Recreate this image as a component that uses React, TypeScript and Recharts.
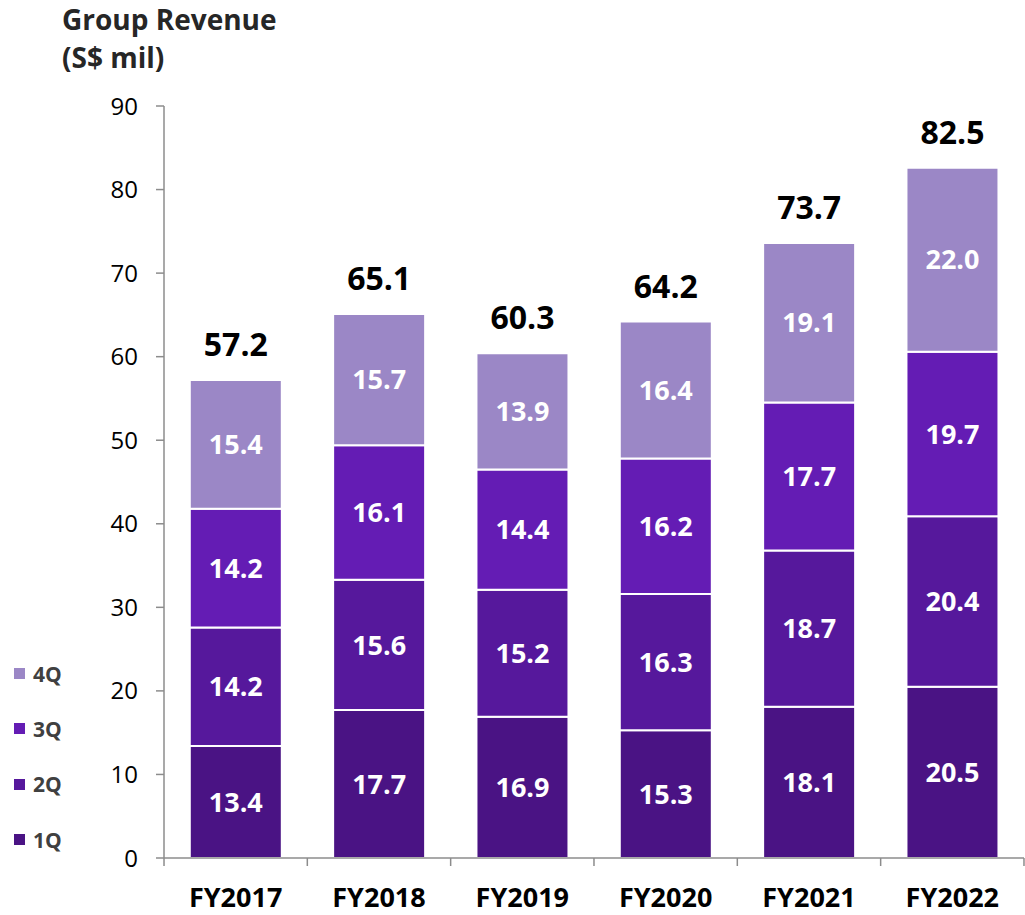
import { Bar, BarChart, LabelList, XAxis, YAxis } from "recharts";

const years = ["FY2017", "FY2018", "FY2019", "FY2020", "FY2021", "FY2022"];
const q1 = [13.4, 17.7, 16.9, 15.3, 18.1, 20.5];
const q2 = [14.2, 15.6, 15.2, 16.3, 18.7, 20.4];
const q3 = [14.2, 16.1, 14.4, 16.2, 17.7, 19.7];
const q4 = [15.4, 15.7, 13.9, 16.4, 19.1, 22.0];
const totals = [57.2, 65.1, 60.3, 64.2, 73.7, 82.5];
const yTicks = [0, 10, 20, 30, 40, 50, 60, 70, 80, 90];

const series = [
	{ key: "q1", name: "1Q", color: "#4a1384" },
	{ key: "q2", name: "2Q", color: "#56189c" },
	{ key: "q3", name: "3Q", color: "#641cb4" },
	{ key: "q4", name: "4Q", color: "#9b87c6" },
];

const data = years.map((year, i) => ({
	year,
	q1: q1[i],
	q2: q2[i],
	q3: q3[i],
	q4: q4[i],
	total: totals[i],
}));

const FONT = "'Open Sans', 'Noto Sans', sans-serif";
const BAND = 143.3;

const XTick = (props: any) => {
	const { x, y, payload, index } = props;
	return (
		<g>
			{index === 0 && <line x1={x - BAND / 2} x2={x - BAND / 2} y1={y - 8} y2={y} stroke="#8c8c8c" strokeWidth={1.5} />}
			<line x1={x + BAND / 2} x2={x + BAND / 2} y1={y - 8} y2={y} stroke="#8c8c8c" strokeWidth={1.5} />
			<text x={x} y={y + 41} textAnchor="middle" fontSize={27} fontWeight={700} fill="#000" fontFamily={FONT}>
				{payload.value}
			</text>
		</g>
	);
};

const LegendBox = () => (
	<div style={{ position: "absolute", left: 14, top: 646, fontFamily: FONT }}>
		{[...series].reverse().map((s) => (
			<div key={s.key} style={{ display: "flex", alignItems: "center", height: 55.3 }}>
				<span style={{ display: "inline-block", width: 11, height: 11, background: s.color, marginRight: 8 }} />
				<span style={{ fontSize: 21, fontWeight: 700, color: "#404040" }}>{s.name}</span>
			</div>
		))}
	</div>
);

const fmt = (v: any) => Number(v).toFixed(1);

export default function App() {
	return (
		<div style={{ position: "relative", width: 1025, height: 915, fontFamily: FONT }}>
			<style>{"html,body{margin:0;padding:0;overflow:hidden}"}</style>
			<div style={{ position: "absolute", left: 62, top: 0, fontSize: 28, fontWeight: 700, color: "#262626", lineHeight: "38px" }}>
				Group Revenue
				<br />
				(S$ mil)
			</div>
			<LegendBox />
			<BarChart
				width={1025}
				height={915}
				data={data}
				margin={{ top: 106, right: 1, left: 0, bottom: 0 }}
				barCategoryGap="18%"
			>
				<YAxis
					domain={[0, 90]}
					ticks={yTicks}
					width={164}
					tickSize={8}
					tickMargin={18}
					axisLine={{ stroke: "#8c8c8c", strokeWidth: 1.5 }}
					tickLine={{ stroke: "#8c8c8c", strokeWidth: 1.5 }}
					tick={{ fontSize: 24, fill: "#000", fontFamily: FONT }}
				/>
				<XAxis
					dataKey="year"
					height={57}
					axisLine={{ stroke: "#8c8c8c", strokeWidth: 1.5 }}
					tickLine={false}
					tick={<XTick />}
					interval={0}
				/>
				{series.map((s) => (
					<Bar
						key={s.key}
						dataKey={s.key}
						name={s.name}
						stackId="rev"
						fill={s.color}
						stroke="#ffffff"
						strokeWidth={2}
						isAnimationActive={false}
					>
						<LabelList
							dataKey={s.key}
							position="center"
							formatter={fmt}
							fill="#ffffff"
							fontSize={27}
							fontWeight={700}
							fontFamily={FONT}
						/>
						{s.key === "q4" && (
							<LabelList
								dataKey="total"
								position="top"
								offset={24}
								formatter={fmt}
								fill="#000000"
								fontSize={32}
								fontWeight={700}
								fontFamily={FONT}
							/>
						)}
					</Bar>
				))}
			</BarChart>
		</div>
	);
}
